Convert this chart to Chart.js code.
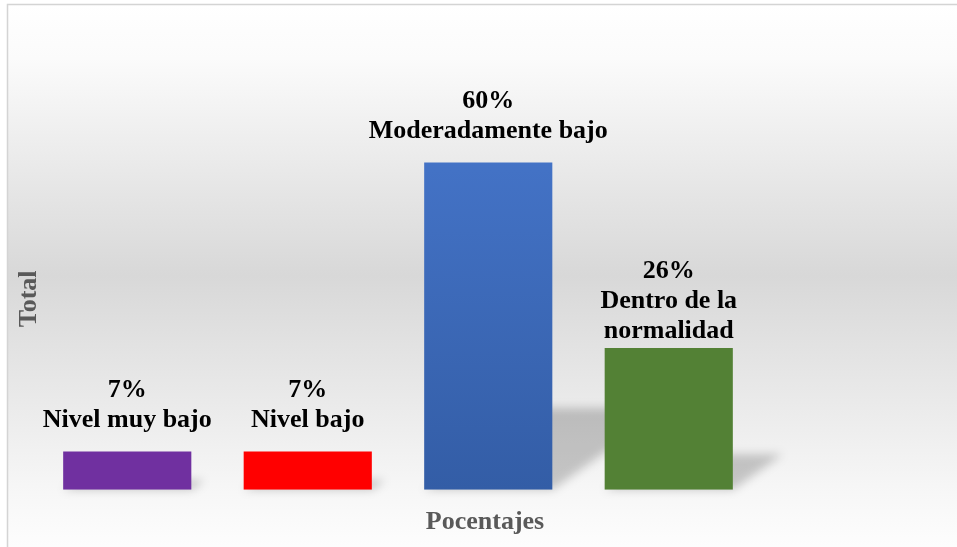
<!DOCTYPE html>
<html lang="es">
<head>
<meta charset="UTF-8">
<title>Niveles - Porcentajes</title>
<script src="https://cdn.jsdelivr.net/npm/chart.js"></script>
<style>
  html, body { margin: 0; padding: 0; background: #fff; }
  canvas { display: block; }
</style>
</head>
<body>
<canvas id="grafico" width="957" height="547"></canvas>
<script>
  // Datos
  const categorias = [['Nivel muy bajo'], ['Nivel bajo'], ['Moderadamente bajo'], ['Dentro de la', 'normalidad']];
  const porcentajes = [7, 7, 60, 26];
  const rangoY = [0, 70];

  const fuente = '"Liberation Serif", "Times New Roman", serif';
  const colores = ['#7030a0', '#ff0000', ['#4676cb', '#335da6'], '#538135'];

  // fondo degradado y borde del area del grafico
  const fondo = {
    id: 'fondo',
    beforeDraw(chart) {
      const ctx = chart.ctx;
      const w = chart.width, h = chart.height;
      ctx.save();
      ctx.fillStyle = '#ffffff';
      ctx.fillRect(0, 0, w, h);
      const g = ctx.createLinearGradient(0, 4, 0, h);
      g.addColorStop(0, '#ffffff');
      g.addColorStop(0.1, '#fbfbfb');
      g.addColorStop(0.5, '#d8d8d8');
      g.addColorStop(0.9, '#f7f7f7');
      g.addColorStop(1, '#fdfdfd');
      ctx.fillStyle = g;
      ctx.fillRect(7, 4, w - 7, h - 4);
      ctx.strokeStyle = '#d4d4d4';
      ctx.lineWidth = 1.5;
      ctx.beginPath();
      ctx.moveTo(7.5, h);
      ctx.lineTo(7.5, 4.5);
      ctx.lineTo(w, 4.5);
      ctx.stroke();
      ctx.restore();
    }
  };

  // sombra en perspectiva detras de cada barra
  const sombras = {
    id: 'sombras',
    beforeDatasetsDraw(chart) {
      const ctx = chart.ctx;
      const meta = chart.getDatasetMeta(0);
      ctx.save();
      ctx.filter = 'blur(5px)';
      ctx.fillStyle = 'rgba(0,0,0,0.2)';
      meta.data.forEach(bar => {
        const h = bar.base - bar.y;
        const x0 = bar.x - bar.width / 2, x1 = bar.x + bar.width / 2;
        const dx = h * 0.35, dy = h * 0.25;
        ctx.beginPath();
        ctx.moveTo(x0, bar.base);
        ctx.lineTo(x1, bar.base);
        ctx.lineTo(x1 + dx, bar.base - dy);
        ctx.lineTo(x0 + dx, bar.base - dy);
        ctx.closePath();
        ctx.fill();
      });
      ctx.restore();
    }
  };

  // etiquetas: porcentaje y nombre de la categoria sobre cada barra
  const etiquetas = {
    id: 'etiquetas',
    afterDatasetsDraw(chart) {
      const ctx = chart.ctx;
      const meta = chart.getDatasetMeta(0);
      ctx.save();
      ctx.font = 'bold 26px ' + fuente;
      ctx.fillStyle = '#000000';
      ctx.textAlign = 'center';
      ctx.textBaseline = 'alphabetic';
      meta.data.forEach((bar, i) => {
        const lineas = [porcentajes[i] + '%'].concat(categorias[i]);
        const centro = bar.y - 40;
        const inicio = centro - (lineas.length - 1) * 15;
        lineas.forEach((t, j) => ctx.fillText(t, bar.x, inicio + j * 30));
      });
      ctx.restore();
    }
  };

  const ctx = document.getElementById('grafico').getContext('2d');
  const grafico = new Chart(ctx, {
    type: 'bar',
    data: {
      labels: categorias,
      datasets: [{
        label: 'Total',
        data: porcentajes,
        backgroundColor: function(c) {
          const col = colores[c.dataIndex];
          if (!Array.isArray(col)) return col;
          const area = c.chart.chartArea;
          if (!area) return col[0];
          const bar = c.chart.getDatasetMeta(0).data[c.dataIndex];
          const top = bar && isFinite(bar.y) ? bar.y : area.top;
          const g = c.chart.ctx.createLinearGradient(0, top, 0, area.bottom);
          g.addColorStop(0, col[0]);
          g.addColorStop(1, col[1]);
          return g;
        },
        borderWidth: 0,
        categoryPercentage: 1,
        barPercentage: 0.71
      }]
    },
    options: {
      responsive: false,
      animation: false,
      layout: { padding: { top: 108, left: 13, right: 0, bottom: 0 } },
      plugins: {
        legend: { display: false },
        tooltip: { enabled: false },
        title: {
          display: true,
          position: 'bottom',
          text: 'Pocentajes',
          color: '#595959',
          font: { family: fuente, size: 26, weight: 'bold', lineHeight: 1.2 },
          padding: { top: 17, bottom: 9 }
        }
      },
      scales: {
        x: {
          display: false,
          grid: { display: false }
        },
        y: {
          min: rangoY[0],
          max: rangoY[1],
          ticks: { display: false },
          grid: { display: false, drawTicks: false },
          border: { display: false },
          title: {
            display: true,
            text: 'Total',
            color: '#595959',
            font: { family: fuente, size: 26, weight: 'bold', lineHeight: 1.2 },
            padding: { top: 1, bottom: 0 }
          },
          afterFit(scale) { scale.width = 24; }
        },
        derecha: {
          position: 'right',
          display: true,
          ticks: { display: false },
          grid: { display: false, drawTicks: false },
          border: { display: false },
          afterFit(scale) { scale.width = 198; }
        }
      }
    },
    plugins: [fondo, sombras, etiquetas]
  });
</script>
</body>
</html>
